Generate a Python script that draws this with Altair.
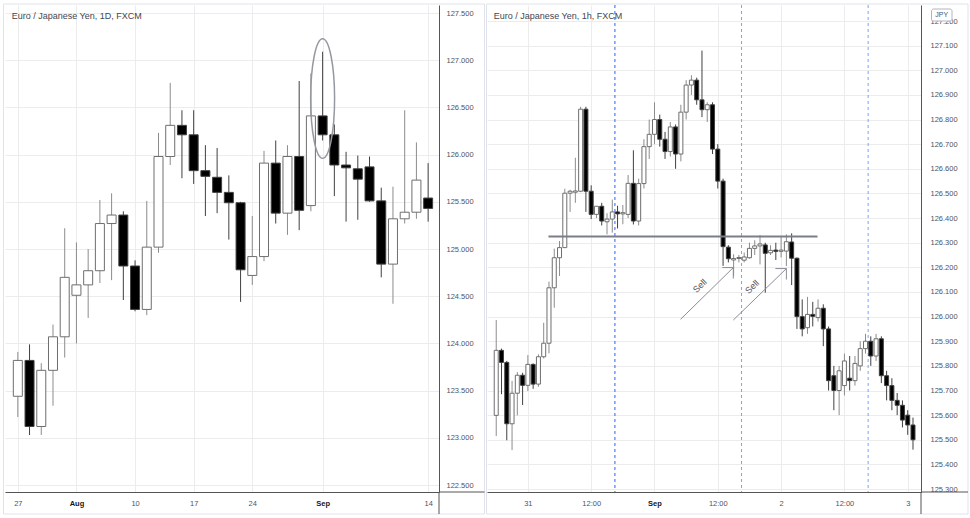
import altair as alt
import pandas as pd

FONT = "Liberation Sans"
LABEL_COLOR = "#50535e"
GRID = "#ececec"

# ---------------- Left panel: EUR/JPY 1D ----------------
d_idx = list(range(36))
d_open = [123.44, 123.82, 123.12, 123.715, 124.07, 124.51, 124.62, 124.77, 125.27, 125.36,
          124.82, 124.36, 125.02, 125.98, 126.31, 126.21, 125.83, 125.76, 125.60, 125.49,
          124.72, 124.92, 125.91, 125.38, 125.98, 125.46, 126.41, 126.21, 125.89, 125.85,
          125.87, 125.51, 124.84, 125.32, 125.39, 125.54]
d_high = [123.91, 123.99, 123.79, 124.20, 125.22, 125.07, 125.00, 125.52, 125.59, 125.40,
          124.88, 125.51, 126.23, 126.76, 126.47, 126.47, 126.10, 126.07, 125.78, 125.50,
          125.35, 126.04, 126.15, 126.10, 126.78, 126.86, 127.09, 126.32, 126.03, 125.99,
          125.98, 125.65, 125.66, 126.47, 126.13, 125.91]
d_low = [123.22, 123.03, 123.03, 123.34, 123.85, 124.00, 124.27, 124.64, 124.67, 124.46,
         124.34, 124.30, 124.96, 125.89, 125.75, 125.69, 125.35, 125.38, 125.10, 124.44,
         124.62, 124.87, 125.27, 125.15, 125.20, 125.40, 126.15, 125.56, 125.29, 125.31,
         125.50, 124.70, 124.42, 125.27, 125.32, 125.29]
d_close = [123.82, 123.12, 123.715, 124.07, 124.70, 124.62, 124.77, 125.27, 125.36, 124.82,
           124.36, 125.02, 125.98, 126.31, 126.21, 125.83, 125.77, 125.60, 125.49, 124.78,
           124.92, 125.91, 125.38, 125.98, 125.41, 126.41, 126.21, 125.89, 125.86, 125.74,
           125.51, 124.84, 125.32, 125.39, 125.73, 125.43]
d_tick_idx = [0, 5, 10, 15, 20, 26, 35]
d_tick_lbl = ["27", "Aug", "10", "17", "24", "Sep", "14"]
d_bold_idx = [5, 26]
d_price_ticks = [122.5, 123.0, 123.5, 124.0, 124.5, 125.0, 125.5, 126.0, 126.5, 127.0, 127.5]
d_x_domain = [-0.667, 35.5]
d_y_domain = [122.426, 127.585]
ellipse_idx = [26]
ellipse_price = [126.594]

# ---------------- Right panel: EUR/JPY 1h ----------------
h_idx = list(range(-6, 74))
h_open = [125.599, 125.863, 125.814, 125.565, 125.689, 125.762, 125.721, 125.806, 125.726, 125.837,
          125.892, 126.117, 126.239, 126.280, 126.501, 126.505, 126.509, 126.842, 126.509, 126.415,
          126.448, 126.385, 126.396, 126.425, 126.417, 126.415, 126.541,
          126.388, 126.54, 126.69, 126.74, 126.80, 126.72, 126.67, 126.77, 126.66, 126.83,
          126.94, 126.96, 126.88, 126.84, 126.86, 126.68, 126.55, 126.282, 126.230, 126.236,
          126.229, 126.239, 126.277, 126.287, 126.291, 126.259, 126.27, 126.265, 126.266, 126.303,
          126.237, 126.00, 125.955, 126.009, 125.996, 126.034, 125.95, 125.76, 125.70, 125.72,
          125.75, 125.74, 125.80, 125.87, 125.90, 125.84, 125.91, 125.76, 125.72, 125.66,
          125.64, 125.60, 125.56]
h_high = [125.986, 125.87, 125.82, 125.739, 125.775, 125.772, 125.844, 125.81, 125.847, 125.975,
          126.142, 126.276, 126.307, 126.519, 126.515, 126.645, 126.852, 126.852, 126.533, 126.448,
          126.462, 126.42, 126.475, 126.45, 126.453, 126.575, 126.675,
          126.56, 126.72, 126.80, 126.87, 126.82, 126.75, 126.79, 126.78, 126.86, 126.96,
          126.98, 126.97, 127.08, 126.87, 126.87, 126.70, 126.56, 126.29, 126.253, 126.25,
          126.26, 126.30, 126.31, 126.331, 126.30, 126.29, 126.30, 126.325, 126.334, 126.338,
          126.24, 126.07, 126.08, 126.06, 126.07, 126.05, 125.96, 125.80, 125.80, 125.85,
          125.84, 125.84, 125.90, 125.93, 125.92, 125.93, 125.92, 125.78, 125.75, 125.69,
          125.66, 125.62, 125.59]
h_low = [125.515, 125.685, 125.498, 125.458, 125.599, 125.641, 125.698, 125.707, 125.715, 125.83,
         125.851, 126.036, 126.165, 126.28, 126.425, 126.462, 126.505, 126.425, 126.396, 126.40,
         126.37, 126.334, 126.341, 126.358, 126.375, 126.40, 126.374,
         126.37, 126.52, 126.64, 126.70, 126.69, 126.64, 126.65, 126.60, 126.63, 126.80,
         126.90, 126.86, 126.81, 126.79, 126.66, 126.52, 126.206, 126.22, 126.165, 126.22,
         126.22, 126.235, 126.25, 126.212, 126.097, 126.25, 126.23, 126.24, 126.205, 126.128,
         125.95, 125.92, 125.93, 125.96, 125.98, 125.88, 125.70, 125.62, 125.60, 125.68,
         125.70, 125.72, 125.78, 125.85, 125.80, 125.82, 125.73, 125.66, 125.62, 125.60,
         125.55, 125.52, 125.46]
h_close = [125.863, 125.814, 125.565, 125.689, 125.762, 125.721, 125.806, 125.726, 125.837, 125.892,
           126.117, 126.239, 126.280, 126.501, 126.509, 126.510, 126.842, 126.509, 126.415, 126.448,
           126.388, 126.396, 126.425, 126.417, 126.422, 126.541, 126.388,
           126.54, 126.69, 126.74, 126.80, 126.72, 126.67, 126.77, 126.66, 126.83, 126.94,
           126.96, 126.88, 126.84, 126.86, 126.68, 126.55, 126.284, 126.235, 126.236, 126.240,
           126.242, 126.277, 126.287, 126.295, 126.257, 126.269, 126.265, 126.27, 126.304, 126.237,
           126.00, 125.95, 126.009, 126.001, 126.034, 125.95, 125.74, 125.70, 125.78, 125.82,
           125.74, 125.81, 125.87, 125.90, 125.84, 125.91, 125.76, 125.72, 125.66, 125.64,
           125.58, 125.56, 125.50]
h_tick_idx = [0, 12, 24, 36, 48, 60, 72]
h_tick_lbl = ["31", "12:00", "Sep", "12:00", "2", "12:00", "3"]
h_bold_idx = [24]
h_price_ticks = [125.3, 125.4, 125.5, 125.6, 125.7, 125.8, 125.9, 126.0, 126.1, 126.2,
                 126.3, 126.4, 126.5, 126.6, 126.7, 126.8, 126.9, 127.0, 127.1, 127.2]
h_x_domain = [-6.8, 73.57]
h_y_domain = [125.288, 127.265]
session_main = [16.5]
session_other = [40.5, 64.5]
support_from = [3.9]
support_to = [54.9]
support_price = [126.325]
arrow_tail_h = [28.94, 38.94]
arrow_tail_p = [125.989, 125.986]
arrow_tip_h = [38.94, 49.0]
arrow_tip_p = [126.199, 126.195]
sell_h = [32.6, 42.5]
sell_p = [126.125, 126.121]
sell_txt = ["Sell", "Sell"]

PW, PH = 434, 487


def label_expr(vals, lbls):
    e = "''"
    for v, l in reversed(list(zip(vals, lbls))):
        e = f"datum.value == {v} ? '{l}' : {e}"
    return e


def bold_test(vals):
    return " || ".join(f"datum.value == {v}" for v in vals)


class Panel:
    def __init__(self, xdom, ydom, xvals, xlbls, bold_vals, yvals, yext, ylabpad):
        self.xs = alt.Scale(domain=xdom, nice=False, zero=False)
        self.ys = alt.Scale(domain=ydom, nice=False, zero=False)
        bt = bold_test(bold_vals)
        self.xaxis = alt.Axis(values=xvals, labelExpr=label_expr(xvals, xlbls), ticks=False,
                              labelPadding=7, grid=True, gridColor=GRID, domainColor="#555555",
                              title=None, labelFlush=False, labelFont=FONT, labelFontSize=7.5,
                              labelColor={"condition": {"test": bt, "value": "#131722"},
                                          "value": LABEL_COLOR},
                              labelFontWeight={"condition": {"test": bt, "value": "bold"},
                                               "value": "normal"})
        self.yaxis = alt.Axis(orient="right", values=yvals, format=".3f", ticks=False,
                              labelPadding=ylabpad, grid=True, gridColor=GRID,
                              domainColor="#555555", title=None, labelFont=FONT,
                              labelFontSize=7.5, labelColor=LABEL_COLOR, labelAlign="left",
                              minExtent=yext, maxExtent=yext)

    def X(self, f):
        return alt.X(f, scale=self.xs, axis=self.xaxis)

    def Y(self, f):
        return alt.Y(f, scale=self.ys, axis=self.yaxis)


def candle_layers(P, df, body_w, frame_l, frame_r, title):
    up = alt.datum.close >= alt.datum.open
    base = alt.Chart(df)
    wick = base.mark_rule(strokeWidth=1).encode(
        x=P.X("x:Q"), y=P.Y("low:Q"), y2="high:Q",
        color=alt.condition(up, alt.value("#8c8c8c"), alt.value("#404040")),
    )
    body = base.mark_bar(size=body_w, strokeWidth=1).encode(
        x=P.X("x:Q"), y=P.Y("open:Q"), y2="close:Q",
        fill=alt.condition(up, alt.value("#ffffff"), alt.value("#000000")),
        stroke=alt.condition(up, alt.value("#6e6e6e"), alt.value("#404040")),
    )
    one = pd.DataFrame({"t": [title]})
    frame = alt.Chart(one).mark_rect(fillOpacity=0, stroke="#e0e3eb", strokeWidth=1).encode(
        x=alt.value(frame_l), x2=alt.value(frame_r), y=alt.value(-1), y2=alt.value(509))
    sep_v = alt.Chart(one).mark_rule(color="#555555", strokeWidth=1).encode(
        x=alt.value(PW), x2=alt.value(PW), y=alt.value(PH), y2=alt.value(509))
    sep_h = alt.Chart(one).mark_rule(color="#555555", strokeWidth=1).encode(
        x=alt.value(PW), x2=alt.value(frame_r), y=alt.value(PH), y2=alt.value(PH))
    ttl = alt.Chart(one).mark_text(align="left", baseline="middle", font=FONT, fontSize=9,
                                   color="#434651").encode(
        x=alt.value(6.7), y=alt.value(11.3), text="t:N")
    return frame, wick, body, sep_v, sep_h, ttl


# ---- left panel ----
LP = Panel(d_x_domain, d_y_domain, d_tick_idx, d_tick_lbl, d_bold_idx, d_price_ticks, 47, 7)
left_df = pd.DataFrame({"x": d_idx, "open": d_open, "high": d_high, "low": d_low, "close": d_close})
l_frame, l_wick, l_body, l_sv, l_sh, l_ttl = candle_layers(LP, left_df, 9, -1.5, 479.5,
                                                           "Euro / Japanese Yen, 1D, FXCM")
ell_df = pd.DataFrame({"x": ellipse_idx, "p": ellipse_price})
ellipse = alt.Chart(ell_df).mark_point(
    shape="M0,-1A0.2,1,0,1,1,0,1A0.2,1,0,1,1,0,-1Z", size=14304, filled=False,
    color="#9598a1", strokeWidth=1.5, opacity=1).encode(x=LP.X("x:Q"), y=LP.Y("p:Q"))
left = alt.layer(l_wick, l_body, ellipse, l_frame, l_sv, l_sh, l_ttl).properties(
    width=PW, height=PH)

# ---- right panel ----
RP = Panel(h_x_domain, h_y_domain, h_tick_idx, h_tick_lbl, h_bold_idx, h_price_ticks, 48, 9)
right_df = pd.DataFrame({"x": h_idx, "open": h_open, "high": h_high, "low": h_low, "close": h_close})
r_frame, r_wick, r_body, r_sv, r_sh, r_ttl = candle_layers(RP, right_df, 4, -0.5, 481,
                                                           "Euro / Japanese Yen, 1h, FXCM")
sess_main = alt.Chart(pd.DataFrame({"x": session_main})).mark_rule(
    strokeDash=[3, 3], strokeWidth=1, color="#2962ff").encode(x=RP.X("x:Q"))
sess_other = alt.Chart(pd.DataFrame({"x": session_other})).mark_rule(
    strokeDash=[3, 3], strokeWidth=1, color="#7fa2f2").encode(x=RP.X("x:Q"))
sup_df = pd.DataFrame({"x": support_from, "x2": support_to, "p": support_price})
support = alt.Chart(sup_df).mark_rule(color="#7b7e88", strokeWidth=2).encode(
    x=RP.X("x:Q"), x2="x2:Q", y=RP.Y("p:Q"))
arr_df = pd.DataFrame({"x": arrow_tail_h, "p": arrow_tail_p, "x2": arrow_tip_h, "p2": arrow_tip_p})
shaft = alt.Chart(arr_df).mark_rule(color="#8a8d96", strokeWidth=1).encode(
    x=RP.X("x:Q"), x2="x2:Q", y=RP.Y("p:Q"), y2="p2:Q")
head_h = alt.Chart(arr_df).mark_rule(color="#8a8d96", strokeWidth=1, x2Offset=-11).encode(
    x=RP.X("x2:Q"), x2="x2:Q", y=RP.Y("p2:Q"), y2="p2:Q")
head_v = alt.Chart(arr_df).mark_rule(color="#8a8d96", strokeWidth=1, y2Offset=11).encode(
    x=RP.X("x2:Q"), x2="x2:Q", y=RP.Y("p2:Q"), y2="p2:Q")
sell_df = pd.DataFrame({"x": sell_h, "p": sell_p, "t": sell_txt})
sell = alt.Chart(sell_df).mark_text(angle=316, font=FONT, fontSize=9, color="#50535e").encode(
    x=RP.X("x:Q"), y=RP.Y("p:Q"), text="t:N")
badge_df = pd.DataFrame({"t": ["JPY"]})
badge = alt.Chart(badge_df).mark_rect(fill="#ffffff", stroke="#b2b5be", strokeWidth=1,
                                      cornerRadius=2).encode(
    x=alt.value(444.5), x2=alt.value(465), y=alt.value(4), y2=alt.value(16))
badge_t = alt.Chart(badge_df).mark_text(font=FONT, fontSize=7, color="#50535e",
                                        baseline="middle").encode(
    x=alt.value(454.7), y=alt.value(10), text="t:N")
right = alt.layer(sess_main, sess_other, r_wick, r_body, support, shaft, head_h, head_v, sell,
                  r_frame, r_sv, r_sh, r_ttl, badge, badge_t).properties(width=PW, height=PH)

chart = alt.hconcat(left, right, spacing=0).properties(
    padding={"left": 3, "top": 3, "right": 1, "bottom": 4},
    background="#ffffff",
).configure_view(strokeWidth=0)

chart.save("out.html", embed_options={"renderer": "svg", "actions": False})
